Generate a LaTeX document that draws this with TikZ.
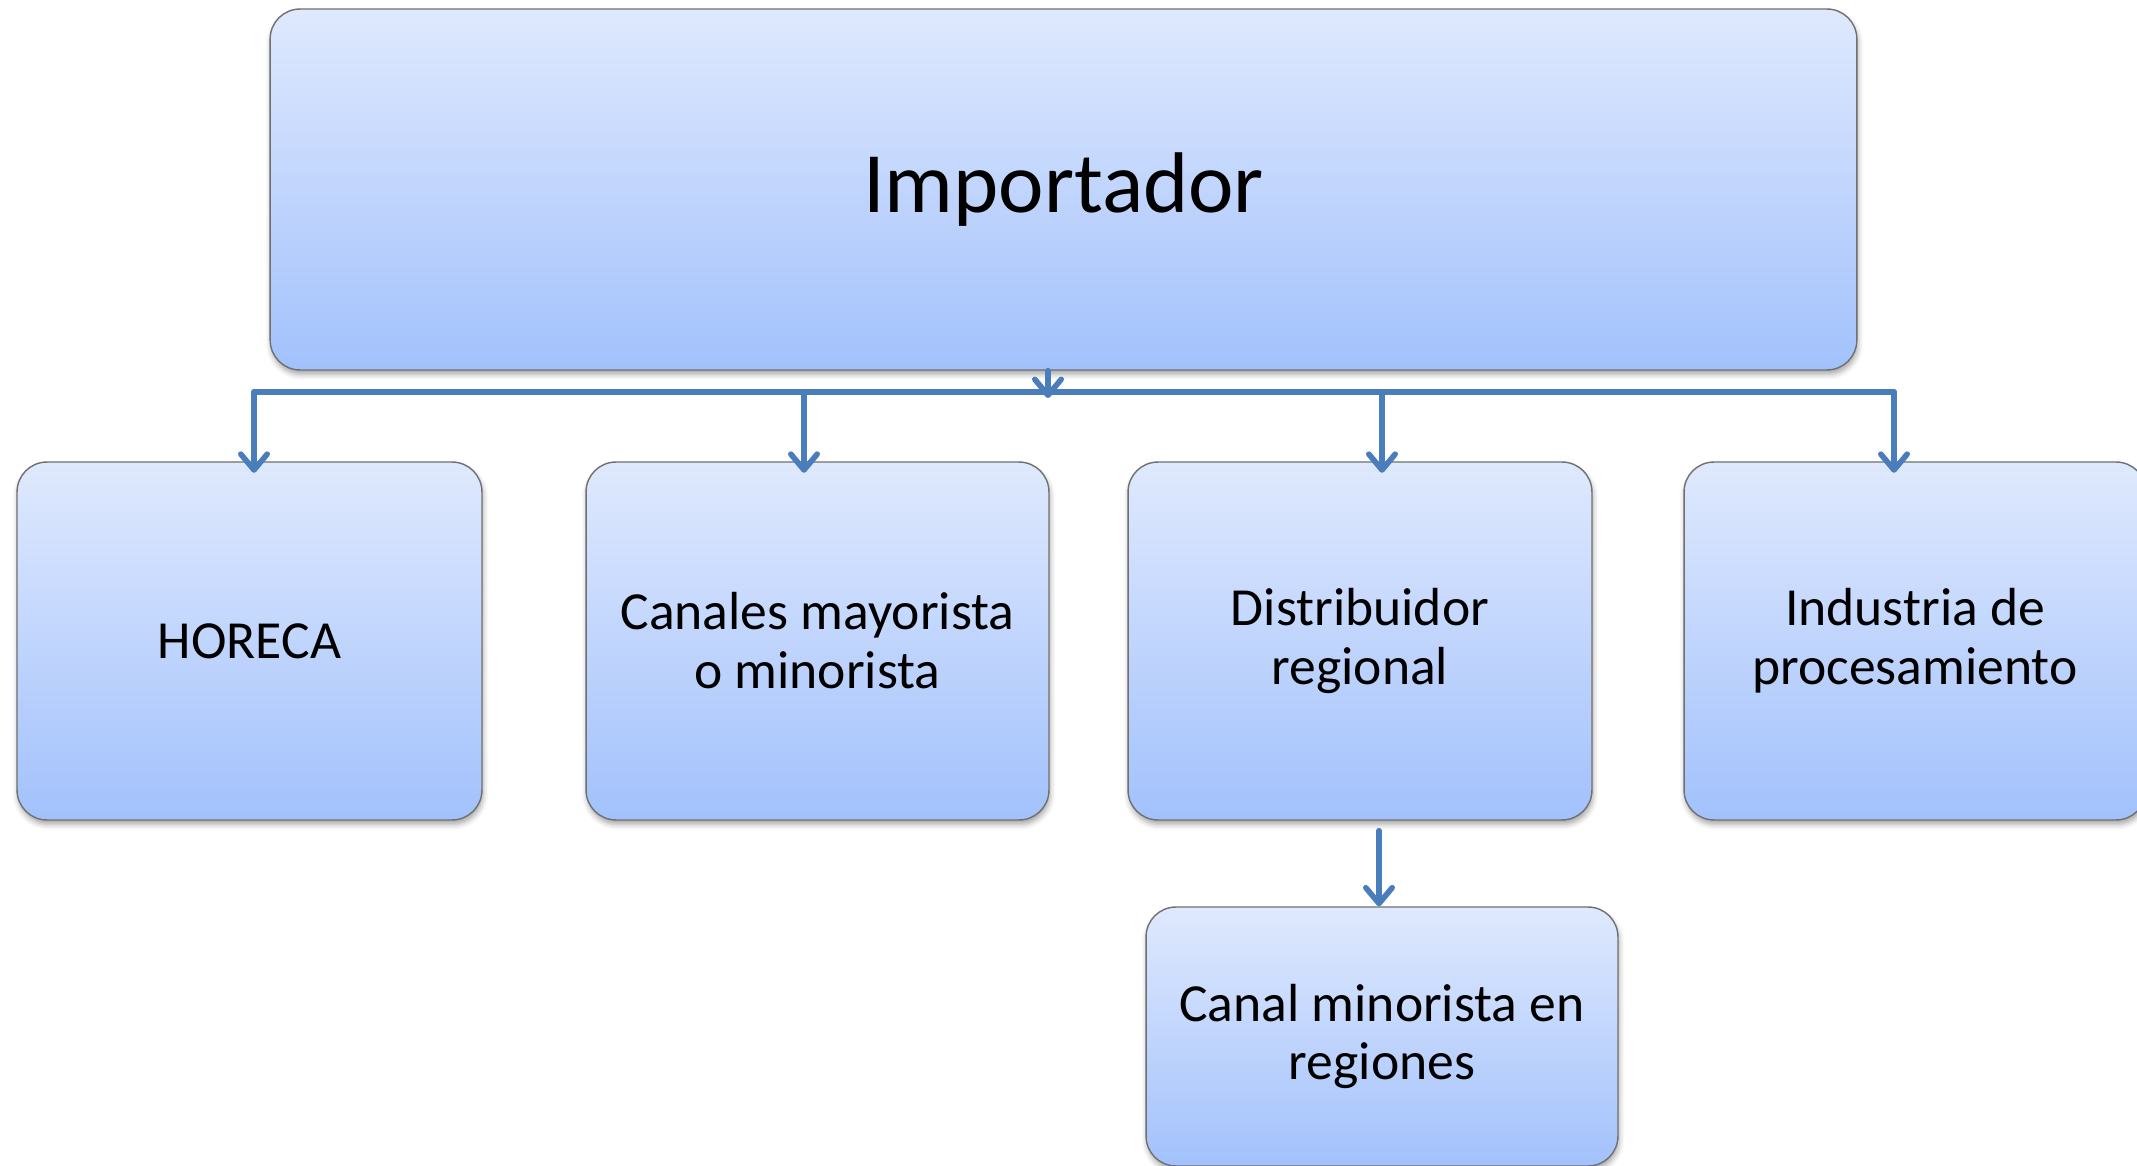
\documentclass[tikz,border=0pt]{standalone}
\usepackage{fontspec}
\setmainfont{Carlito}
\usetikzlibrary{arrows.meta,shadows.blur}
\definecolor{boxtop}{RGB}{223,233,253}
\definecolor{boxbot}{RGB}{162,193,252}
\definecolor{boxline}{RGB}{112,112,112}
\definecolor{arrowblue}{RGB}{74,126,187}
\begin{document}
\begin{tikzpicture}[x=0.02cm,y=-0.02cm,
  box/.style={draw=boxline, line width=0.8pt, rounded corners=17pt,
    top color=boxtop, bottom color=boxbot, align=center, inner sep=0pt,
    blur shadow={shadow xshift=0.6pt, shadow yshift=-2.5pt, shadow blur radius=3pt, shadow opacity=35},
    font=\fontsize{30.5}{33.5}\selectfont},
  conn/.style={draw=arrowblue, line width=3.2pt, line cap=round},
  arr/.style={conn, -{Straight Barb[length=9pt,width=15pt,round]}}]
\useasboundingbox (0,0) rectangle (2137,1166);

\node[box, minimum width=31.74cm, minimum height=7.22cm, font=\fontsize{49}{54}\selectfont] (imp) at (1063.5,189.5) {Importador};
\node[box, minimum width=9.3cm, minimum height=7.16cm] (horeca) at (249.5,641) {HORECA};
\node[box, minimum width=9.26cm, minimum height=7.16cm] (canales) at (817.5,641) {Canales mayorista\\o minorista};
\node[box, minimum width=9.28cm, minimum height=7.16cm] (dist) at (1360,641) {Distribuidor\\regional};
\node[box, minimum width=9.24cm, minimum height=7.16cm] (ind) at (1915,641) {Industria de\\procesamiento};
\node[box, minimum width=9.44cm, minimum height=5.18cm] (canal) at (1382,1036.5) {Canal minorista en\\regiones};

\coordinate (bl) at (254,392);
\coordinate (bc) at (804,392);
\coordinate (bd) at (1382,392);
\coordinate (br) at (1894,392);
\coordinate (bt) at (1048,398);
\coordinate (dx) at (1379,0);

\draw[conn] (bl) -- (br);
\draw[arr] (imp.south -| bt) -- (bt);
\draw[arr] (bl) -- ([yshift=-6.5pt]horeca.north -| bl);
\draw[arr] (bc) -- ([yshift=-6.5pt]canales.north -| bc);
\draw[arr] (bd) -- ([yshift=-6.5pt]dist.north -| bd);
\draw[arr] (br) -- ([yshift=-6.5pt]ind.north -| br);
\draw[arr] ([yshift=-5.7pt]dist.south -| dx) -- (canal.north -| dx);
\end{tikzpicture}
\end{document}
